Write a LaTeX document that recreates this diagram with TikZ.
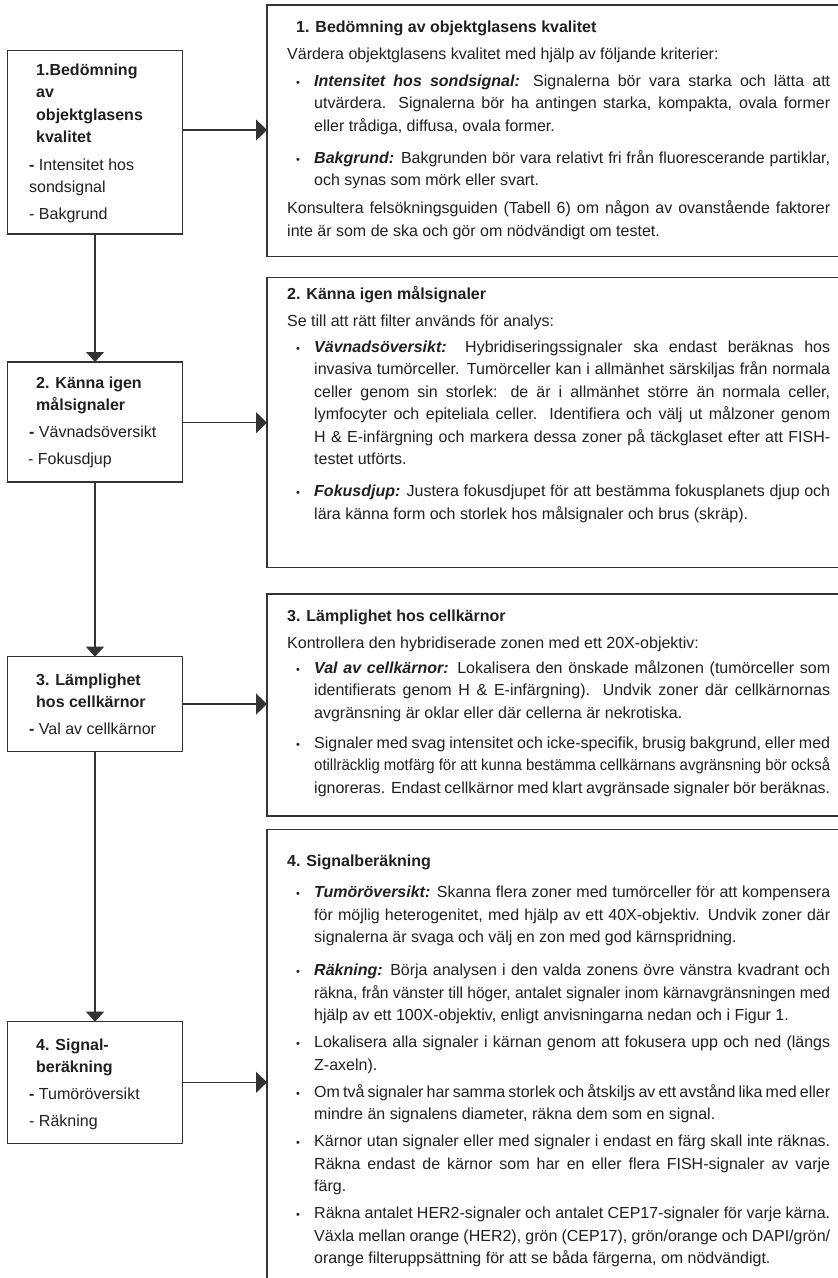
\documentclass[tikz,border=0pt]{standalone}
\usepackage{fontspec}
\setmainfont{Liberation Sans}
\usepackage{graphicx}
\usetikzlibrary{arrows.meta}
\definecolor{ink}{HTML}{231F20}
\definecolor{linec}{HTML}{333333}
\newcommand{\bodyf}{\fontsize{16pt}{22.5pt}\selectfont}
\newcommand{\bi}[1]{\textbf{\textit{#1}}}
\newcommand{\rp}[2]{\parbox[t]{#1}{\bodyf\tolerance=9000 #2}}
\newcommand{\fitline}[1]{\resizebox{\linewidth}{\height}{#1}}
\begin{document}
\begin{tikzpicture}[x=1pt,y=-1pt,
  frame/.style={draw=linec, line width=1.3pt, rectangle, inner sep=0pt, outer sep=0pt, anchor=north west},
  lbox/.style={frame, minimum width=175.4pt},
  rbox/.style={frame, minimum width=590pt},
  txt/.style={anchor=base west, inner sep=0pt, text=ink, font=\bodyf},
  ttl/.style={anchor=base west, inner sep=0pt, text=ink, font=\bodyf\bfseries},
  bul/.style={anchor=base west, inner sep=0pt, text=ink, font=\fontsize{11pt}{11pt}\selectfont},
  down/.style={draw=linec, line width=1.3pt, -{Triangle[width=18pt,length=10pt]}},
  toright/.style={draw=linec, line width=1.3pt, -{Triangle[width=21pt,length=11pt]}}
]
\useasboundingbox (0,0) rectangle (838,1278);
\clip (0,0) rectangle (838,1278);
\fill[white] (0,0) rectangle (838,1278);

% left boxes
\node[lbox, minimum height=183.3pt] (L1) at (7.3,50.7) {};
\node[lbox, minimum height=120pt] (L2) at (7.3,362) {};
\node[lbox, minimum height=95pt] (L3) at (7.3,656.7) {};
\node[lbox, minimum height=121.6pt] (L4) at (7.3,1021.7) {};

% right boxes
\node[rbox, minimum height=251.7pt] (R1) at (267,5) {};
\node[rbox, minimum height=290pt] (R2) at (267,277.7) {};
\node[rbox, minimum height=222pt] (R3) at (267,594) {};
\node[rbox, minimum height=480pt] (R4) at (267,829.3) {};

% connectors
\coordinate (A1) at (0,130);
\coordinate (A2) at (0,422.7);
\coordinate (A3) at (0,704);
\coordinate (A4) at (0,1082.3);
\draw[down] (L1.south) -- (L2.north);
\draw[down] (L2.south) -- (L3.north);
\draw[down] (L3.south) -- (L4.north);
\draw[toright] (L1.east |- A1) -- (R1.west |- A1);
\draw[toright] (L2.east |- A2) -- (R2.west |- A2);
\draw[toright] (L3.east |- A3) -- (R3.west |- A3);
\draw[toright] (L4.east |- A4) -- (R4.west |- A4);

% left texts
\node[ttl] (l1a) at (36,75) {1.Bedömning};
\node[ttl] (l1b) at (36,97.5) {av};
\node[ttl] (l1c) at (36,120) {objektglasens};
\node[ttl] (l1d) at (36,142.5) {kvalitet};
\node[txt] (l1e) at (29,170) {\textbf{-} Intensitet hos};
\node[txt] (l1f) at (29,192.5) {sondsignal};
\node[txt] (l1g) at (29,219) {- Bakgrund};

\node[ttl] (l2a) at (36,388) {2. Känna igen};
\node[ttl] (l2b) at (36,410.5) {målsignaler};
\node[txt] (l2c) at (29,437.5) {\textbf{-} Vävnadsöversikt};
\node[txt] (l2d) at (28,464.5) {- Fokusdjup};

\node[ttl] (l3a) at (36,685) {3. Lämplighet};
\node[ttl] (l3b) at (36,707.5) {hos cellkärnor};
\node[txt] (l3c) at (29,734) {\textbf{-} Val av cellkärnor};

\node[ttl] (l4a) at (36,1050) {4. Signal-};
\node[ttl] (l4b) at (36,1072.5) {beräkning};
\node[txt] (l4c) at (29,1099) {\textbf{-} Tumöröversikt};
\node[txt] (l4d) at (29,1126.5) {- Räkning};

% right box 1
\node[ttl] (r1t) at (296,32) {1. Bedömning av objektglasens kvalitet};
\node[txt] (r1a) at (287,59.5) {Värdera objektglasens kvalitet med hjälp av följande kriterier:};
\node[bul] (r1b1) at (296,86) {•};
\node[txt] (r1b) at (314,86) {\rp{516pt}{\bi{Intensitet hos sondsignal:} Signalerna bör vara starka och lätta att\linebreak utvärdera. Signalerna bör ha antingen starka, kompakta, ovala former\linebreak eller trådiga, diffusa, ovala former.}};
\node[bul] (r1c1) at (296,163) {•};
\node[txt] (r1c) at (314,163) {\rp{516pt}{\bi{Bakgrund:} Bakgrunden bör vara relativt fri från fluorescerande partiklar,\linebreak och synas som mörk eller svart.}};
\node[txt] (r1d) at (287,213.5) {\rp{543pt}{Konsultera felsökningsguiden (Tabell 6) om någon av ovanstående faktorer\linebreak inte är som de ska och gör om nödvändigt om testet.}};

% right box 2
\node[ttl] (r2t) at (287,299.5) {2. Känna igen målsignaler};
\node[txt] (r2a) at (287,326) {Se till att rätt filter används för analys:};
\node[bul] (r2b1) at (296,352) {•};
\node[txt] (r2b) at (314,352) {\rp{516pt}{\bi{Vävnadsöversikt:} Hybridiseringssignaler ska endast beräknas hos\linebreak invasiva tumörceller. Tumörceller kan i allmänhet särskiljas från normala\linebreak celler genom sin storlek: de är i allmänhet större än normala celler,\linebreak lymfocyter och epiteliala celler. Identifiera och välj ut målzoner genom\linebreak H \& E-infärgning och markera dessa zoner på täckglaset efter att FISH-\linebreak testet utförts.}};
\node[bul] (r2c1) at (296,496.5) {•};
\node[txt] (r2c) at (314,496.5) {\rp{516pt}{\bi{Fokusdjup:} Justera fokusdjupet för att bestämma fokusplanets djup och\linebreak lära känna form och storlek hos målsignaler och brus (skräp).}};

% right box 3
\node[ttl] (r3t) at (287,621.5) {3. Lämplighet hos cellkärnor};
\node[txt] (r3a) at (287,648) {Kontrollera den hybridiserade zonen med ett 20X-objektiv:};
\node[bul] (r3b1) at (296,673) {•};
\node[txt] (r3b) at (314,673) {\rp{516pt}{\bi{Val av cellkärnor:} Lokalisera den önskade målzonen (tumörceller som\linebreak identifierats genom H \& E-infärgning). Undvik zoner där cellkärnornas\linebreak avgränsning är oklar eller där cellerna är nekrotiska.}};
\node[bul] (r3c1) at (296,748) {•};
\node[txt] (r3c) at (314,748) {\rp{516pt}{Signaler med svag intensitet och icke-specifik, brusig bakgrund, eller med\linebreak \fitline{otillräcklig motfärg för att kunna bestämma cellkärnans avgränsning bör också}\linebreak ignoreras. Endast cellkärnor med klart avgränsade signaler bör beräknas.}};

% right box 4
\node[ttl] (r4t) at (287,866) {4. Signalberäkning};
\node[bul] (r4a1) at (296,897.5) {•};
\node[txt] (r4a) at (314,897.5) {\rp{516pt}{\bi{Tumöröversikt:} Skanna flera zoner med tumörceller för att kompensera\linebreak för möjlig heterogenitet, med hjälp av ett 40X-objektiv. Undvik zoner där\linebreak signalerna är svaga och välj en zon med god kärnspridning.}};
\node[bul] (r4b1) at (296,975.5) {•};
\node[txt] (r4b) at (314,975.5) {\rp{516pt}{\bi{Räkning:} Börja analysen i den valda zonens övre vänstra kvadrant och\linebreak \fitline{räkna, från vänster till höger, antalet signaler inom kärnavgränsningen med}\linebreak hjälp av ett 100X-objektiv, enligt anvisningarna nedan och i Figur 1.}};
\node[bul] (r4c1) at (296,1047.5) {•};
\node[txt] (r4c) at (314,1047.5) {\rp{516pt}{Lokalisera alla signaler i kärnan genom att fokusera upp och ned (längs\linebreak Z-axeln).}};
\node[bul] (r4d1) at (296,1097) {•};
\node[txt] (r4d) at (314,1097) {\rp{516pt}{Om två signaler har samma storlek och åtskiljs av ett avstånd lika med eller\linebreak mindre än signalens diameter, räkna dem som en signal.}};
\node[bul] (r4e1) at (296,1146.5) {•};
\node[txt] (r4e) at (314,1146.5) {\rp{516pt}{Kärnor utan signaler eller med signaler i endast en färg skall inte räknas.\linebreak Räkna endast de kärnor som har en eller flera FISH-signaler av varje\linebreak färg.}};
\node[bul] (r4f1) at (296,1218.5) {•};
\node[txt] (r4f) at (314,1218.5) {\rp{516pt}{Räkna antalet HER2-signaler och antalet CEP17-signaler för varje kärna.\linebreak Växla mellan orange (HER2), grön (CEP17), grön/orange och DAPI/grön/\linebreak orange filteruppsättning för att se båda färgerna, om nödvändigt.}};
\end{tikzpicture}
\end{document}
